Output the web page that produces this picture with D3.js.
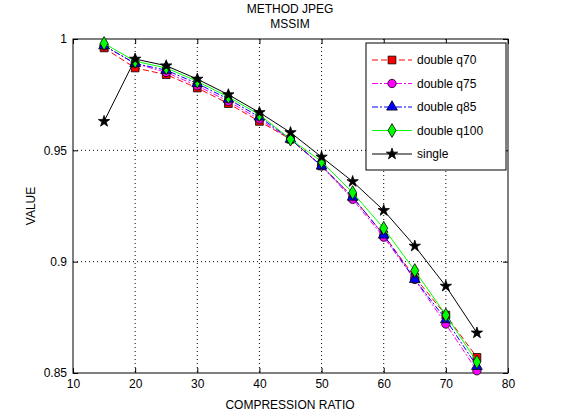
<!DOCTYPE html>
<html>
<head>
<meta charset="utf-8">
<script src="https://cdn.jsdelivr.net/npm/d3@7"></script>
<style>body{margin:0;background:#fff}text{font-family:"Liberation Sans",Arial,sans-serif}</style>
</head>
<body>
<svg id="chart" width="561" height="420"></svg>
<script>
var ratios = [15, 20, 25, 30, 35, 40, 45, 50, 55, 60, 65, 70, 75];
var q70 = [0.996, 0.987, 0.984, 0.978, 0.971, 0.963, 0.955, 0.943, 0.929, 0.912, 0.893, 0.876, 0.857];
var q75 = [0.997, 0.989, 0.985, 0.979, 0.972, 0.964, 0.955, 0.943, 0.928, 0.911, 0.892, 0.872, 0.851];
var q85 = [0.997, 0.989, 0.986, 0.980, 0.973, 0.965, 0.955, 0.943, 0.929, 0.912, 0.892, 0.874, 0.853];
var q100 = [0.998, 0.990, 0.987, 0.981, 0.974, 0.966, 0.955, 0.945, 0.931, 0.915, 0.896, 0.876, 0.855];
var single = [0.963, 0.991, 0.988, 0.982, 0.975, 0.967, 0.958, 0.947, 0.936, 0.923, 0.907, 0.889, 0.868];
var xTicks = [10, 20, 30, 40, 50, 60, 70, 80];
var yTicks = [0.85, 0.9, 0.95, 1];

var series = [
    {name: "double q70", v: q70, color: "#ff0000", dash: "6,3", sym: d3.symbolSquare, fill: "#ff0000", size: 60},
    {name: "double q75", v: q75, color: "#ff00ff", dash: "6,2,2,2", sym: d3.symbolCircle, fill: "#ff00ff", size: 55},
    {name: "double q85", v: q85, color: "#0000ff", dash: "6,2,2,2", sym: d3.symbolTriangle, fill: "#0000ff", size: 50},
    {name: "double q100", v: q100, color: "#00ff00", dash: null, sym: d3.symbolDiamond, fill: "#00ff00", size: 55},
    {name: "single", v: single, color: "#000000", dash: null, sym: d3.symbolStar, fill: "#000000", size: 40}
];

var svg = d3.select("#chart");
var L = 73, R = 508, T = 39, B = 373;
var x = d3.scaleLinear().domain([10, 80]).range([L, R]);
var y = d3.scaleLinear().domain([0.85, 1]).range([B, T]);

// grid
svg.append("g").selectAll("line").data(xTicks.slice(1, -1)).enter().append("line")
    .attr("x1", x).attr("x2", x).attr("y1", T).attr("y2", B)
    .attr("stroke", "#000").attr("stroke-dasharray", "1,3");
svg.append("g").selectAll("line").data(yTicks.slice(1, -1)).enter().append("line")
    .attr("y1", y).attr("y2", y).attr("x1", L).attr("x2", R)
    .attr("stroke", "#000").attr("stroke-dasharray", "1,3");

svg.append("rect").attr("x", L).attr("y", T).attr("width", R - L).attr("height", B - T)
    .attr("fill", "none").attr("stroke", "#000");

var xa = svg.append("g").attr("transform", "translate(0," + B + ")")
    .call(d3.axisBottom(x).tickValues(xTicks).tickSize(-5).tickPadding(6).tickFormat(d3.format("d")));
var ya = svg.append("g").attr("transform", "translate(" + L + ",0)")
    .call(d3.axisLeft(y).tickValues(yTicks).tickSize(-5).tickPadding(6).tickFormat(function (d) { return d === 1 ? "1" : d; }));
svg.append("g").attr("transform", "translate(" + R + ",0)")
    .call(d3.axisRight(y).tickValues(yTicks).tickSize(-5).tickFormat(""));
svg.append("g").attr("transform", "translate(0," + T + ")")
    .call(d3.axisTop(x).tickValues(xTicks).tickSize(-5).tickFormat(""));
svg.selectAll(".domain").remove();
svg.selectAll(".tick text").attr("font-size", 12).attr("fill", "#000");

var line = d3.line().x(function (d, i) { return x(ratios[i]); }).y(function (d) { return y(d); });

series.forEach(function (s) {
    svg.append("path").datum(s.v).attr("d", line).attr("fill", "none")
        .attr("stroke", s.color).attr("stroke-width", 1).attr("stroke-dasharray", s.dash);
    svg.append("g").selectAll("path").data(s.v).enter().append("path")
        .attr("transform", function (d, i) { return "translate(" + x(ratios[i]) + "," + y(d) + ")"; })
        .attr("d", d3.symbol().type(s.sym).size(s.size))
        .attr("fill", s.fill).attr("stroke", s.name === "single" ? "#000" : "#000").attr("stroke-width", 0.8);
});

// legend
var lg = svg.append("g");
lg.append("rect").attr("x", 366).attr("y", 43).attr("width", 140).attr("height", 127)
    .attr("fill", "#fff").attr("stroke", "#000");
series.forEach(function (s, i) {
    var yy = 60 + i * 23.5;
    lg.append("line").attr("x1", 372).attr("x2", 412).attr("y1", yy).attr("y2", yy)
        .attr("stroke", s.color).attr("stroke-dasharray", s.dash);
    lg.append("path").attr("transform", "translate(392," + yy + ")")
        .attr("d", d3.symbol().type(s.sym).size(s.size)).attr("fill", s.fill).attr("stroke", "#000").attr("stroke-width", 0.8);
    lg.append("text").attr("x", 417).attr("y", yy + 4).attr("font-size", 12).text(s.name);
});

svg.append("text").attr("x", 290).attr("y", 13).attr("text-anchor", "middle").attr("font-size", 12).text("METHOD JPEG");
svg.append("text").attr("x", 290).attr("y", 28).attr("text-anchor", "middle").attr("font-size", 12).text("MSSIM");
svg.append("text").attr("x", 290).attr("y", 409).attr("text-anchor", "middle").attr("font-size", 12).text("COMPRESSION RATIO");
svg.append("text").attr("transform", "translate(35," + ((T + B) / 2) + ") rotate(-90)")
    .attr("text-anchor", "middle").attr("font-size", 12).text("VALUE");
</script>
</body>
</html>
